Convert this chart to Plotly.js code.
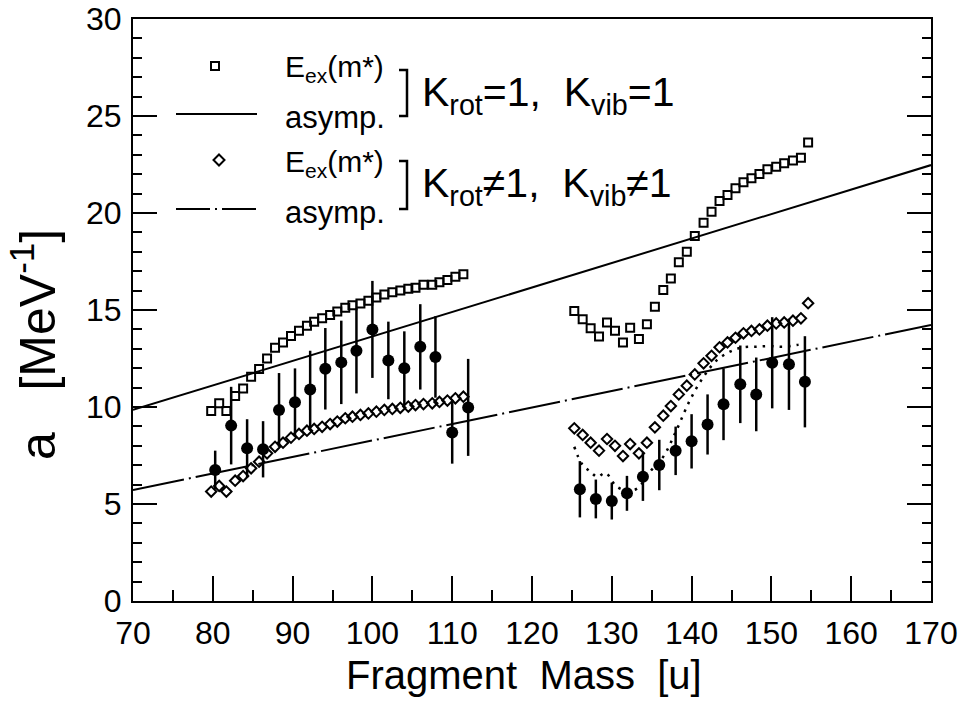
<!DOCTYPE html>
<html>
<head>
<meta charset="utf-8">
<script src="https://cdn.plot.ly/plotly-3.0.1.min.js"></script>
<style>html,body{margin:0;padding:0;background:#fff;}</style>
</head>
<body>
<div id="chart" style="width:962px;height:701px;"></div>
<script>
// ---- data ----
// K_rot=1, K_vib=1 : E_ex(m*) (open squares), light-fragment branch
var sqMassL = [79.8,80.8,81.7,82.8,83.8,84.8,85.8,86.8,87.8,88.8,89.8,90.8,91.8,92.7,93.7,94.7,95.6,96.6,97.5,98.5,99.5,100.5,101.5,102.5,103.5,104.5,105.4,106.4,107.5,108.4,109.4,110.4,111.4];
var sqValL  = [9.79,10.19,9.79,10.57,10.96,11.56,11.96,12.5,13.06,13.33,13.66,13.93,14.19,14.4,14.57,14.74,14.92,15.12,15.24,15.34,15.48,15.65,15.8,15.91,16.0,16.1,16.15,16.3,16.3,16.43,16.55,16.72,16.84];
// K_rot!=1, K_vib!=1 : E_ex(m*) (open diamonds), light branch (same masses)
var dmValL  = [5.64,5.93,5.64,6.2,6.44,6.84,7.18,7.61,7.95,8.16,8.42,8.61,8.78,8.87,8.98,9.12,9.25,9.42,9.5,9.59,9.67,9.76,9.85,9.9,9.96,10.02,10.1,10.15,10.19,10.26,10.33,10.45,10.53];
// heavy-fragment branch
var sqMassR = [125.3,126.35,127.35,128.4,129.4,130.4,131.4,132.3,133.4,134.4,135.4,136.45,137.4,138.4,139.4,140.4,141.5,142.5,143.5,144.5,145.5,146.5,147.5,148.5,149.5,150.6,151.6,152.7,153.7,154.6];
var sqValR  = [14.95,14.52,14.06,13.63,14.36,13.93,13.33,14.09,13.5,14.26,15.17,16.03,16.63,17.46,18.0,18.81,19.5,20.07,20.62,20.93,21.27,21.58,21.79,22.01,22.25,22.39,22.56,22.7,22.85,23.64];
var dmValR  = [8.9,8.56,8.16,7.75,8.35,8.0,7.47,8.09,7.61,8.16,8.95,9.55,10.05,10.65,11.1,11.68,12.25,12.64,13.08,13.33,13.57,13.8,13.92,14.0,14.19,14.31,14.36,14.45,14.57,15.35];
// experimental points (filled circles with error bars)
var expMassL = [80.3,82.3,84.3,86.3,88.3,90.3,92.2,94.1,96.1,98.0,100.0,102.0,104.0,106.0,107.9,110.0,112.0];
var expValL  = [6.75,9.04,7.87,7.82,9.85,10.24,10.9,11.97,12.3,12.9,14.0,12.4,12.0,13.1,12.58,8.68,9.98];
var expErrL  = [1.0,2.0,1.5,1.45,1.9,1.75,2.0,2.1,2.15,2.2,2.5,2.0,1.9,2.2,2.1,1.6,2.5];
var expMassR = [126.0,128.0,130.0,131.9,133.9,135.95,138.0,140.0,142.0,144.0,146.1,148.1,150.1,152.2,154.2];
var expValR  = [5.76,5.26,5.15,5.55,6.41,7.01,7.74,8.23,9.1,10.14,11.17,10.65,12.28,12.2,11.3];
var expErrR  = [1.45,1.0,0.95,0.9,1.25,1.3,1.25,1.4,1.55,1.85,2.0,1.9,2.35,2.35,2.35];
// dotted curve (heavy branch)
var dotMass = [125.3,126.2,127.3,128.2,129.2,130.6,131.9,133.2,134.8,136.45,138.1,139.8,141.5,143.1,144.8,146.5,148.2,149.8,151.5,153.2,154.2];
var dotVal  = [7.95,7.1,6.67,6.4,6.6,5.9,5.7,5.8,6.67,7.44,8.8,10.36,11.56,12.39,12.85,13.08,13.11,13.14,13.11,13.2,13.28];
// asymptotic level-density lines (end points)
var asymMass   = [70,170];
var asymSolid  = [9.85,22.47];
var asymDashDot= [5.72,14.23];
// axis
var xTicks = [70,80,90,100,110,120,130,140,150,160,170];
var yTicks = [0,5,10,15,20,25,30];

var FN = "Liberation Sans Narrow, Liberation Sans, Arial, sans-serif";
var FR = "Liberation Sans, Arial, sans-serif";
var BLK = "#000";

var traces = [
  {x: asymMass, y: asymSolid, mode:'lines', line:{color:BLK, width:2}, hoverinfo:'skip'},
  {x: asymMass, y: asymDashDot, mode:'lines', line:{color:BLK, width:2, dash:'52px,5px,2px,5px'}, hoverinfo:'skip'},
  {x: dotMass, y: dotVal, mode:'lines', line:{color:BLK, width:2.5, dash:'2.5px,6px', shape:'spline'}},
  {x: sqMassL, y: sqValL, mode:'markers', marker:{symbol:'square-open', size:8, color:BLK, line:{width:2, color:BLK}}},
  {x: sqMassR, y: sqValR, mode:'markers', marker:{symbol:'square-open', size:8, color:BLK, line:{width:2, color:BLK}}},
  {x: expMassL, y: expValL, mode:'markers', marker:{symbol:'circle', size:12, color:BLK},
   error_y:{type:'data', array:expErrL, visible:true, width:0, thickness:2.5, color:BLK}},
  {x: expMassR, y: expValR, mode:'markers', marker:{symbol:'circle', size:12, color:BLK},
   error_y:{type:'data', array:expErrR, visible:true, width:0, thickness:2.5, color:BLK}},
  {x: sqMassL, y: dmValL, mode:'markers', marker:{symbol:'diamond-open', size:8, color:BLK, line:{width:2, color:BLK}}},
  {x: sqMassR, y: dmValR, mode:'markers', marker:{symbol:'diamond-open', size:8, color:BLK, line:{width:2, color:BLK}}}
];

// pixel helpers for legend decorations (plot area: x 133..931, y 19..601)
function px(x){ return (x-133)/798; }
function py(y){ return (601-y)/582; }

var shapes = [
  {type:'rect', xref:'paper', yref:'paper', xsizemode:'pixel', ysizemode:'pixel', xanchor:px(215), yanchor:py(66), x0:-4, x1:4, y0:-4, y1:4, line:{color:BLK, width:2}},
  {type:'path', xref:'paper', yref:'paper', xsizemode:'pixel', ysizemode:'pixel', xanchor:px(219), yanchor:py(160), path:'M0,5.5L5.5,0L0,-5.5L-5.5,0Z', line:{color:BLK, width:2}},
  {type:'line', xref:'paper', yref:'paper', x0:px(176), x1:px(257), y0:py(114), y1:py(114), line:{color:BLK, width:2}},
  {type:'line', xref:'paper', yref:'paper', x0:px(176), x1:px(257), y0:py(209), y1:py(209), line:{color:BLK, width:2, dash:'34px,5px,2px,5px'}},
  {type:'path', xref:'paper', yref:'paper', xsizemode:'pixel', ysizemode:'pixel', xanchor:px(407), yanchor:py(93), path:'M-8,23L0,23L0,-23L-8,-23', line:{color:BLK, width:2.5}},
  {type:'path', xref:'paper', yref:'paper', xsizemode:'pixel', ysizemode:'pixel', xanchor:px(407), yanchor:py(185), path:'M-8,24L0,24L0,-24L-8,-24', line:{color:BLK, width:2.5}}
];

function ann(text, x, y, size, font, extra){
  var a = {text:text, xref:'paper', yref:'paper', x:px(x), y:py(y), xanchor:'left', yanchor:'middle', showarrow:false,
           font:{family:font, size:size, color:BLK}};
  if (extra) for (var k in extra) a[k]=extra[k];
  return a;
}
var annotations = [
  ann('E<sub>ex</sub>(m*)', 283, 68, 30, FN),
  ann('asymp.', 283, 118, 31, FN),
  ann('K<sub>rot</sub>=1,\u00a0\u00a0K<sub>vib</sub>=1', 420, 95, 41, FR),
  ann('E<sub>ex</sub>(m*)', 283, 163, 30, FN),
  ann('asymp.', 283, 212, 31, FN),
  ann('K<sub>rot</sub>\u22601,\u00a0\u00a0K<sub>vib</sub>\u22601', 420, 186, 41, FR),
  // axis titles
  {text:'Fragment\u00a0\u00a0Mass\u00a0\u00a0[u]', xref:'paper', yref:'paper', x:px(524), y:py(675), xanchor:'center', yanchor:'middle', showarrow:false, font:{family:FR, size:40, color:BLK}},
  {text:'a\u00a0\u00a0\u00a0[MeV<sup>-1</sup>]', xref:'paper', yref:'paper', x:px(34), y:py(345), xanchor:'center', yanchor:'middle', textangle:-90, showarrow:false, font:{family:FR, size:50, color:BLK}}
];

var layout = {
  width:962, height:701,
  margin:{l:133, r:31, t:19, b:100},
  paper_bgcolor:'#fff', plot_bgcolor:'#fff',
  showlegend:false,
  font:{family:FN, color:BLK},
  xaxis:{range:[70,170], tickvals:xTicks, ticktext:xTicks.map(String), ticks:'inside', ticklen:25, tickwidth:2, tickcolor:BLK,
         minor:{dtick:5, tick0:70, ticks:'inside', ticklen:11, tickwidth:2, tickcolor:BLK},
         showline:true, linewidth:2, linecolor:BLK, mirror:true, showgrid:false, zeroline:false,
         ticklabelstandoff:3, ticklabeloverflow:'allow', tickfont:{family:FN, size:32, color:BLK}},
  yaxis:{range:[0,30], tickvals:yTicks, ticktext:yTicks.map(String), ticks:'inside', ticklen:24, tickwidth:2, tickcolor:BLK,
         minor:{dtick:1, tick0:0, ticks:'inside', ticklen:9, tickwidth:2, tickcolor:BLK},
         showline:true, linewidth:2, linecolor:BLK, mirror:'allticks', showgrid:false, zeroline:false,
         ticklabelstandoff:3, ticklabeloverflow:'allow', tickfont:{family:FN, size:32, color:BLK}},
  shapes:shapes,
  annotations:annotations
};

Plotly.newPlot('chart', traces, layout, {staticPlot:true, displayModeBar:false});
</script>
</body>
</html>
